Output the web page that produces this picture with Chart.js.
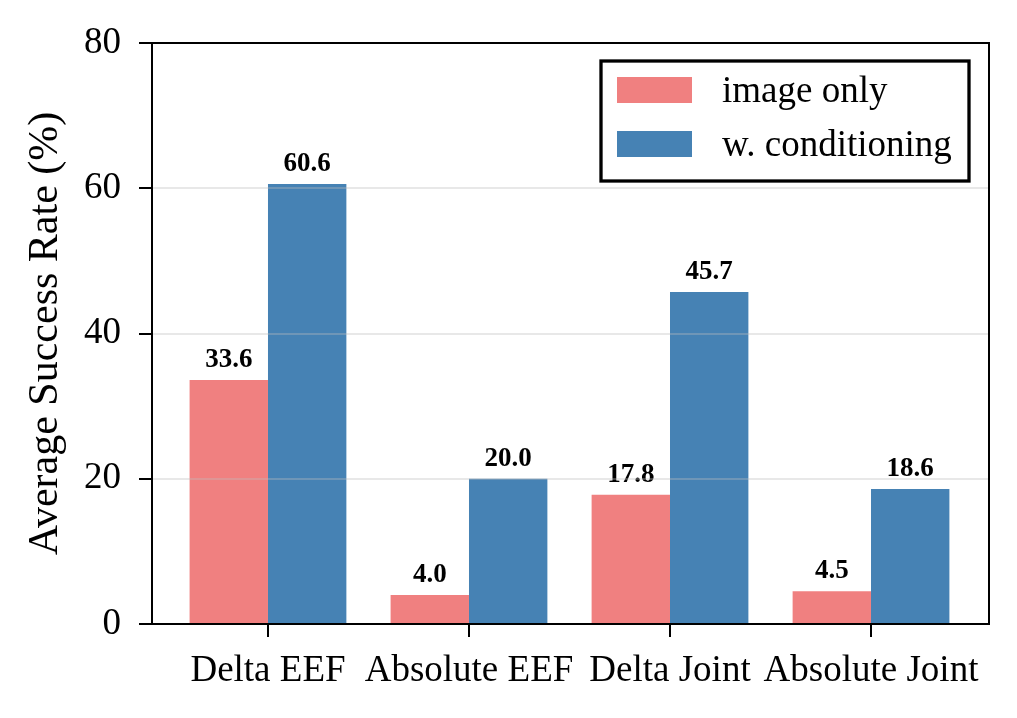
<!DOCTYPE html>
<html>
<head>
<meta charset="utf-8">
<script src="https://cdn.jsdelivr.net/npm/chart.js@4.4.1/dist/chart.umd.min.js"></script>
<style>
  html, body { margin: 0; padding: 0; background: #fff; }
  canvas { display: block; }
</style>
</head>
<body>
<canvas id="chart" width="1017" height="718"></canvas>
<script>
const categories = ['Delta EEF', 'Absolute EEF', 'Delta Joint', 'Absolute Joint'];
const seriesNames = ['image only', 'w. conditioning'];
const imageOnly = [33.6, 4.0, 17.8, 4.5];
const withConditioning = [60.6, 20.0, 45.7, 18.6];
const yTicks = [0, 20, 40, 60, 80];

const SERIF = '"Liberation Serif", "DejaVu Serif", serif';
const RED = '#F08080';
const BLUE = '#4682B4';

function toPoints(values) {
    return values.map((v, i) => ({ x: i, y: v }));
}

// value labels above each bar
const barLabels = {
    id: 'barLabels',
    afterDatasetsDraw(chart) {
        const { ctx } = chart;
        ctx.save();
        ctx.font = 'bold 27px ' + SERIF;
        ctx.fillStyle = '#000';
        ctx.textAlign = 'center';
        ctx.textBaseline = 'alphabetic';
        chart.data.datasets.forEach((ds, di) => {
            chart.getDatasetMeta(di).data.forEach((bar, i) => {
                ctx.fillText(ds.data[i].y.toFixed(1), bar.x, bar.y - 13);
            });
        });
        ctx.restore();
    },
};

// frame round the plot and a boxed legend
const frameAndLegend = {
    id: 'frameAndLegend',
    afterDraw(chart) {
        const { ctx, chartArea: a } = chart;
        ctx.save();
        ctx.strokeStyle = '#000';
        ctx.lineWidth = 2;
        ctx.strokeRect(a.left, a.top, a.right - a.left, a.bottom - a.top);

        ctx.lineWidth = 3.3;
        ctx.fillStyle = '#fff';
        ctx.fillRect(601, 61, 368, 120);
        ctx.strokeRect(601, 61, 368, 120);

        ctx.font = '37px ' + SERIF;
        ctx.textBaseline = 'middle';
        ctx.textAlign = 'left';
        chart.data.datasets.forEach((ds, i) => {
            const y = 90 + i * 54;
            ctx.fillStyle = ds.backgroundColor;
            ctx.fillRect(617, y - 13, 75, 26);
            ctx.fillStyle = '#000';
            ctx.fillText(ds.label, 722, y + 2);
        });
        ctx.restore();
    },
};

new Chart(document.getElementById('chart'), {
    type: 'bar',
    data: {
        datasets: [
            { label: seriesNames[0], data: toPoints(imageOnly), backgroundColor: RED },
            { label: seriesNames[1], data: toPoints(withConditioning), backgroundColor: BLUE },
        ],
    },
    options: {
        responsive: false,
        animation: false,
        devicePixelRatio: 1,
        categoryPercentage: 0.78,
        barPercentage: 1.0,
        layout: { padding: { top: 43, right: 28, left: 0, bottom: 0 } },
        plugins: {
            legend: { display: false },
            tooltip: { enabled: false },
        },
        scales: {
            x: {
                type: 'linear',
                offset: false,
                min: -0.577,
                max: 3.587,
                afterBuildTicks(scale) {
                    scale.ticks = categories.map((c, i) => ({ value: i }));
                },
                afterFit(scale) { scale.height = 94; },
                grid: {
                    offset: false,
                    drawOnChartArea: false,
                    tickLength: 13,
                    tickColor: '#000',
                    lineWidth: 2,
                },
                border: { display: false },
                ticks: {
                    autoSkip: false,
                    maxRotation: 0,
                    padding: 12,
                    color: '#000',
                    font: { family: SERIF, size: 37 },
                    callback: (v) => categories[v],
                },
            },
            y: {
                min: 0,
                max: 80,
                afterBuildTicks(scale) {
                    scale.ticks = yTicks.map((v) => ({ value: v }));
                },
                afterFit(scale) { scale.width = 152; },
                grid: {
                    z: 1,
                    color: 'rgba(190,190,190,0.35)',
                    lineWidth: 2,
                    tickColor: '#000',
                    tickLength: 13,
                },
                border: { display: false },
                ticks: {
                    padding: 18,
                    color: '#000',
                    font: { family: SERIF, size: 37 },
                },
                title: {
                    display: true,
                    text: 'Average Success Rate (%)',
                    color: '#000',
                    font: { family: SERIF, size: 42 },
                    padding: { top: 21, bottom: 0 },
                },
            },
        },
    },
    plugins: [barLabels, frameAndLegend],
});
</script>
</body>
</html>
